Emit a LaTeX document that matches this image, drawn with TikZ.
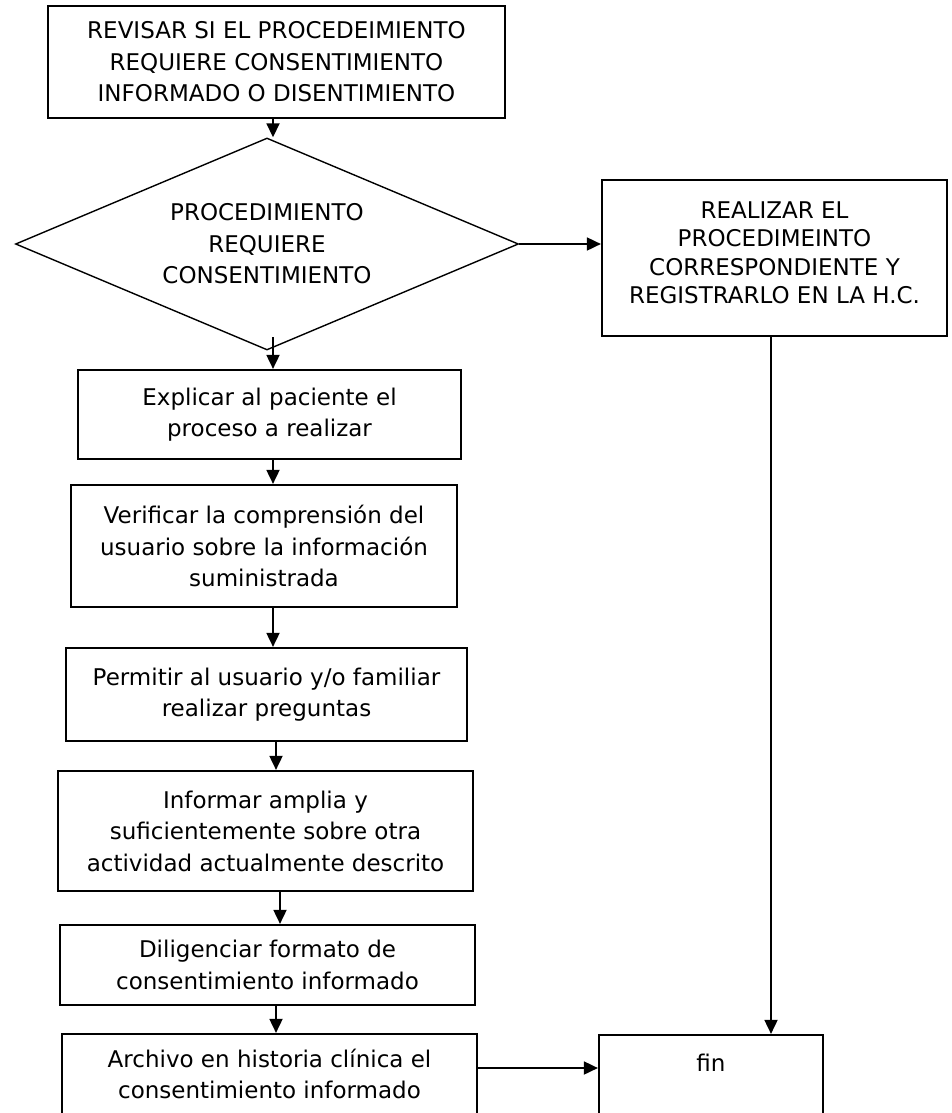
\documentclass[tikz,border=0pt]{standalone}
\usepackage{fontspec}
\setmainfont{DejaVu Sans}
\usetikzlibrary{shapes.geometric,arrows.meta}
\newcommand\fsz{\fontsize{23}{31.5}\selectfont}
\newcommand\fszb{\fontsize{23}{28.5}\selectfont}
\begin{document}
\begin{tikzpicture}[x=1pt,y=-1pt,
  box/.style={draw,line width=2.2pt,align=center,inner sep=0pt,font=\fsz},
  txt/.style={align=center,inner sep=0pt,font=\fsz},
  arr/.style={line width=1.8pt,-{Triangle[length=14pt,width=13pt]}}]
\useasboundingbox (0,0) rectangle (951,1113);
\fill[white] (0,0) rectangle (951,1113);
% nodes
\node[box,minimum width=457pt,minimum height=112pt] (top) at (276.5,62)
  {REVISAR SI EL PROCEDEIMIENTO\\REQUIERE CONSENTIMIENTO\\INFORMADO O DISENTIMIENTO};
\node[draw,diamond,aspect=2.37,line width=1.4pt,minimum width=503pt,minimum height=212pt,
  inner sep=0pt,align=center,font=\fsz] (dec) at (267,244)
  {PROCEDIMIENTO\\REQUIERE\\CONSENTIMIENTO};
\node[box,minimum width=345pt,minimum height=156pt] (rb) at (774.5,258) {};
\node[txt,font=\fszb] (rbt) at (774.5,253)
  {REALIZAR EL\\PROCEDIMEINTO\\CORRESPONDIENTE Y\\REGISTRARLO EN LA H.C.};
\node[box,minimum width=383pt,minimum height=89pt] (b1) at (269.5,414.5)
  {Explicar al paciente el\\proceso a realizar};
\node[box,minimum width=386pt,minimum height=122pt] (b2) at (264,546)
  {Verificar la comprensión del\\usuario sobre la información\\suministrada};
\node[box,minimum width=401pt,minimum height=93pt] (b3) at (266.5,694.5)
  {Permitir al usuario y/o familiar\\realizar preguntas};
\node[box,minimum width=415pt,minimum height=120pt] (b4) at (265.5,831)
  {Informar amplia y\\suficientemente sobre otra\\actividad actualmente descrito};
\node[box,minimum width=415pt,minimum height=80pt] (b5) at (267.5,965)
  {Diligenciar formato de\\consentimiento informado};
\node[box,minimum width=415pt,minimum height=80pt] (b6) at (269.5,1074)
  {Archivo en historia clínica el\\consentimiento informado};
\node[box,minimum width=224pt,minimum height=79pt] (fin) at (711,1074.5) {};
\node[txt] (fint) at (711,1063) {fin};
% coordinates for connector columns
\coordinate (cA) at (273,0);
\coordinate (cB) at (276,0);
\coordinate (cC) at (280,0);
\coordinate (cR) at (771,0);
\coordinate (cF) at (0,1068);
\coordinate (d1) at (273,337);
% connectors
\draw[arr] (top.south -| cA) -- (dec.north -| cA);
\draw[arr] (d1) -- (b1.north -| d1);
\draw[arr] (b1.south -| cA) -- (b2.north -| cA);
\draw[arr] (b2.south -| cA) -- (b3.north -| cA);
\draw[arr] (b3.south -| cB) -- (b4.north -| cB);
\draw[arr] (b4.south -| cC) -- (b5.north -| cC);
\draw[arr] (b5.south -| cB) -- (b6.north -| cB);
\draw[arr] (dec.east) -- (dec.east -| rb.west);
\draw[arr] (rb.south -| cR) -- (fin.north -| cR);
\draw[arr] (b6.east |- cF) -- (fin.west |- cF);
\end{tikzpicture}
\end{document}
